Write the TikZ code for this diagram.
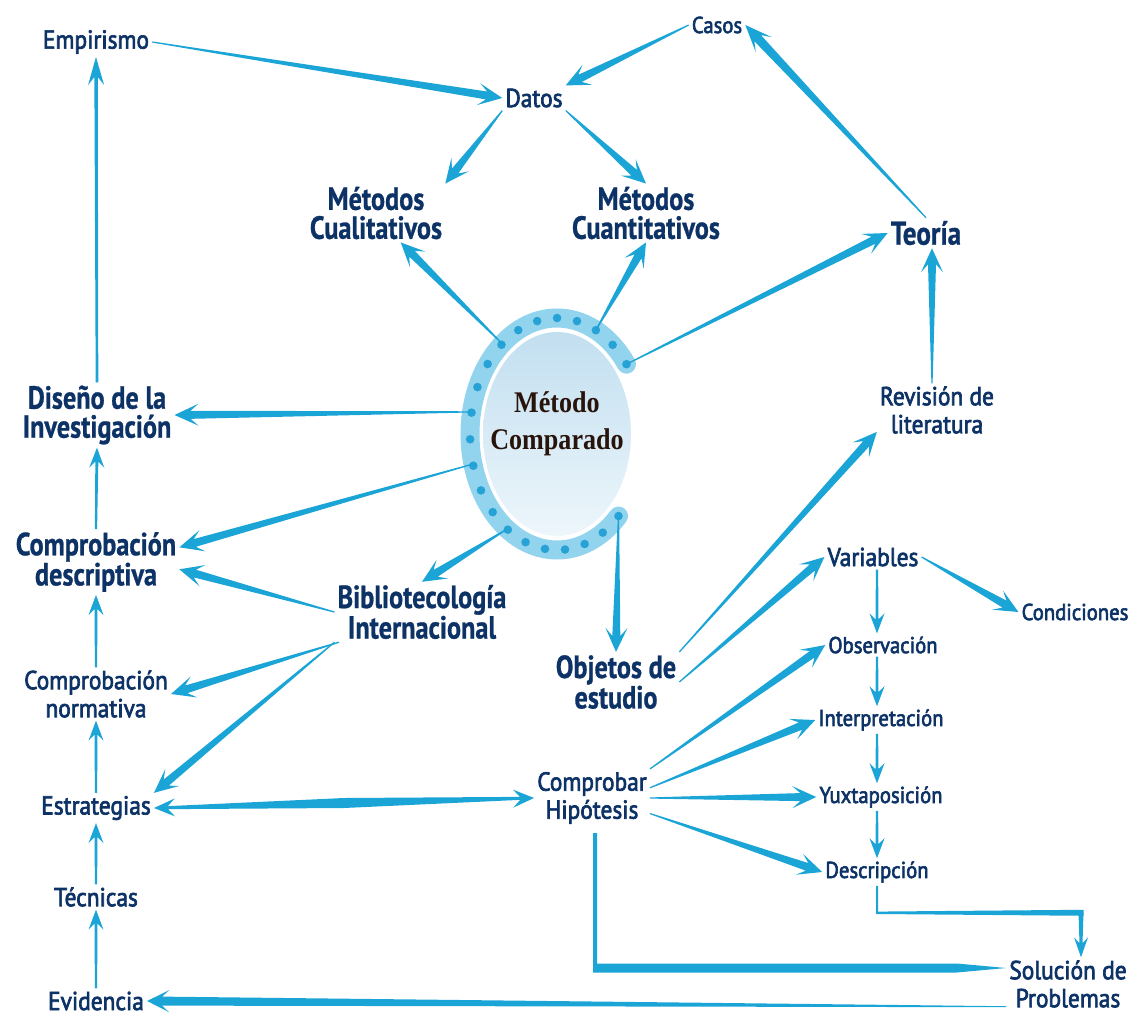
\documentclass[tikz,border=0pt]{standalone}
\usepackage{fontspec}
\setmainfont{PT Sans}
\newfontfamily\lblfont[FakeStretch=0.9,FakeBold=2.6]{PT Sans}
\newfontfamily\lblbold[FakeStretch=0.82,FakeBold=0.8]{PT Sans}
\newfontfamily\ctrfont[FakeStretch=0.87]{Liberation Serif}
\usetikzlibrary{calc,shapes.geometric}
\definecolor{arrc}{RGB}{27,164,214}
\definecolor{txtc}{RGB}{13,50,102}
\definecolor{ringc}{RGB}{146,211,238}
\definecolor{dotc}{RGB}{38,162,214}
\definecolor{disktop}{RGB}{194,223,240}
\definecolor{diskbot}{RGB}{237,246,251}
\definecolor{ctrc}{RGB}{40,20,10}
% tapered arrow: [opts]{from}{to}{tail hw}{shaft hw}{head hw}{notch}{barb}
\newcommand\tarr[8][]{%
 \fill[arrfill,#1] ($(#2)!#4!90:(#3)$) -- ($(#3)!#7!(#2)!#5!-90:(#2)$) -- ($(#3)!#8!(#2)!#6!-90:(#2)$) -- (#3) -- ($(#3)!#8!(#2)!#6!90:(#2)$) -- ($(#3)!#7!(#2)!#5!90:(#2)$) -- ($(#2)!#4!-90:(#3)$) -- cycle;}
\newcommand\barr[3][]{\tarr[#1]{#2}{#3}{0.6pt}{4pt}{11pt}{16pt}{24pt}}
\newcommand\sarr[3][]{\tarr[#1]{#2}{#3}{1.1pt}{1.5pt}{7.5pt}{14pt}{20pt}}
\begin{document}
\begin{tikzpicture}[x=1pt,y=-1pt,
  arrfill/.style={fill=arrc},
  lbl/.style={text=txtc,font=\lblfont\fontsize{26}{28}\selectfont,align=center,inner sep=3pt},
  sml/.style={lbl,font=\lblfont\fontsize{23}{26}\selectfont},
  bld/.style={lbl,font=\lblbold\bfseries\fontsize{32}{29}\selectfont},
  ctr/.style={text=ctrc,font=\ctrfont\bfseries\fontsize{30}{37}\selectfont,align=center}]
\useasboundingbox (0,0) rectangle (1135,1017);
% central figure
\coordinate (c0) at (557,434);
\shade[top color=disktop,bottom color=diskbot] (c0) ellipse [x radius=74pt,y radius=102pt];
\draw[ringc,line width=19pt,line cap=round] ($(c0)+(37:87pt and 116pt)$) arc[start angle=37,end angle=315,x radius=87pt,y radius=116pt];
\foreach \k in {0,...,21}{\fill[dotc] ($(c0)+({37+\k*13.238}:87pt and 116pt)$) circle (4.3pt);}
\node[ellipse,minimum width=192pt,minimum height=252pt,inner sep=0pt] (mc) at (c0) {};
\node[ctr] (mct) at (557,424) {Método\\Comparado};
\coordinate (r1) at ($(mc.center)+(129:87pt and 116pt)$);
\coordinate (r2) at ($(mc.center)+(63.5:87pt and 116pt)$);
\coordinate (r3) at ($(mc.center)+(37:87pt and 116pt)$);
\coordinate (r4) at ($(mc.center)+(169:87pt and 116pt)$);
\coordinate (r5) at ($(mc.center)+(195:87pt and 116pt)$);
\coordinate (r6) at ($(mc.center)+(235:87pt and 116pt)$);
\coordinate (r7) at ($(mc.center)+(315:87pt and 116pt)$);
% labels
\node[lbl] (emp) at (96,42) {Empirismo};
\node[lbl] (datos) at (534,98) {Datos};
\node[sml] (casos) at (717,25) {Casos};
\node[bld] (mcual) at (376,213) {Métodos\\Cualitativos};
\node[bld] (mcuan) at (646,213) {Métodos\\Cuantitativos};
\node[bld,font=\lblbold\bfseries\fontsize{33}{30}\selectfont] (teoria) at (926,233) {Teoría};
\node[lbl] (rev) at (937,410) {Revisión de\\literatura};
\node[bld] (dis) at (97,415) {Diseño de la\\Investigación};
\node[bld] (cdes) at (96,562) {Comprobación\\descriptiva};
\node[bld] (bib) at (422,612) {Bibliotecología\\Internacional};
\node[lbl] (cnor) at (96,694) {Comprobación\\normativa};
\node[bld] (obj) at (616,682) {Objetos de\\estudio};
\node[lbl] (var) at (873,557) {Variables};
\node[sml] (cond) at (1075,612) {Condiciones};
\node[sml] (obs) at (883,645) {Observación};
\node[sml] (interp) at (881,720) {Interpretación};
\node[sml] (yux) at (881,797) {Yuxtaposición};
\node[sml] (desc) at (877,872) {Descripción};
\node[lbl] (comp) at (592,798) {Comprobar\\Hipótesis};
\node[lbl] (estr) at (96,808) {Estrategias};
\node[lbl] (tec) at (96,897) {Técnicas};
\node[lbl] (evid) at (96,1001) {Evidencia};
\node[lbl] (sol) at (1068,984) {Solución de\\Problemas};
% top arrows
\barr{emp.east}{datos.west}
\barr{casos.west}{datos.north east}
\tarr{teoria.north}{casos.east}{0.6pt}{4.5pt}{11pt}{18pt}{27pt}
\barr{datos.south west}{mcual.north east}
\barr{datos.south east}{mcuan.north}
\barr{r1}{mcual.310}
\barr{r2}{mcuan.south}
\barr{r3}{teoria.west}
\coordinate (q1) at ($(rev.north)+(-5,0)$);
\coordinate (q2) at (q1 |- teoria.south);
\barr{q1}{q2}
% left
\barr{r4}{dis.east}
\barr{r5}{cdes.10}
\barr{r6}{bib.north}
\barr{bib.west}{cdes.-5}
\barr{bib.200}{cnor.east}
\barr{bib.south west}{estr.north east}
% right
\barr{r7}{obj.north}
\barr{obj.north east}{rev.200}
\barr{obj.east}{var.west}
\barr{var.east}{cond.west}
\coordinate (v1) at (var.south -| desc.north);
\coordinate (v2) at (obs.north -| desc.north);
\coordinate (v3) at (obs.south -| desc.north);
\coordinate (v4) at (interp.north -| desc.north);
\coordinate (v5) at (interp.south -| desc.north);
\coordinate (v6) at (yux.north -| desc.north);
\coordinate (v7) at (yux.south -| desc.north);
\sarr{v1}{v2}
\sarr{v3}{v4}
\sarr{v5}{v6}
\sarr{v7}{desc.north}
\barr{comp.north east}{obs.west}
\barr{comp.10}{interp.west}
\barr{comp.east}{yux.west}
\barr{comp.-15}{desc.west}
% double arrow
\coordinate (mid) at ($(estr.east)!0.5!(comp.west)$);
\tarr{mid}{estr.east}{5pt}{1.5pt}{9pt}{14pt}{21pt}
\tarr{mid}{comp.west}{5pt}{1.5pt}{9pt}{14pt}{21pt}
% left column
\sarr{evid.north}{tec.south}
\sarr{tec.north}{estr.south}
\sarr{estr.north}{cnor.south}
\sarr{cnor.north}{cdes.south}
\sarr{cdes.north}{dis.south}
\tarr{dis.north}{emp.south}{1.3pt}{1.7pt}{8pt}{20pt}{28pt}
% elbow: Comprobar -> Solucion
\coordinate (k0) at ($(comp.south)+(3,6)$);
\coordinate (k1) at ($(sol.west)+(0,-16)$);
\coordinate (kc) at (k0 |- k1);
\coordinate (km) at ($(kc)!0.88!(k1)$);
\fill[arrfill] ($(k0)+(-2,0)$) -- ($(kc)+(-2,4.5)$) -- ($(km)+(0,4.5)$) -- (k1) -- ($(km)+(0,-4.5)$) -- ($(kc)+(2,-4.5)$) -- ($(k0)+(2,0)$) -- cycle;
% elbow: Descripcion -> Solucion
\coordinate (k2) at ($(sol.north)+(13,0)$);
\coordinate (k4) at ($(desc.south)+(0,27)$);
\coordinate (k3) at (k2 |- k4);
\fill[arrfill] ($(desc.south)+(-1,0)$) -- ($(k4)+(-1,1.2)$) -- ($(k3)+(2.5,3)$) -- ($(k3)+(2.5,-3)$) -- ($(k4)+(1,-1.2)$) -- ($(desc.south)+(1,0)$) -- cycle;
\tarr{k3}{k2}{2.5pt}{1.5pt}{7pt}{14pt}{20pt}
% Solucion -> Evidencia
\coordinate (k5) at ($(sol.south west)+(0,-4)$);
\tarr{k5}{evid.east}{0.5pt}{4.5pt}{11pt}{15pt}{22pt}
\end{tikzpicture}
\end{document}
